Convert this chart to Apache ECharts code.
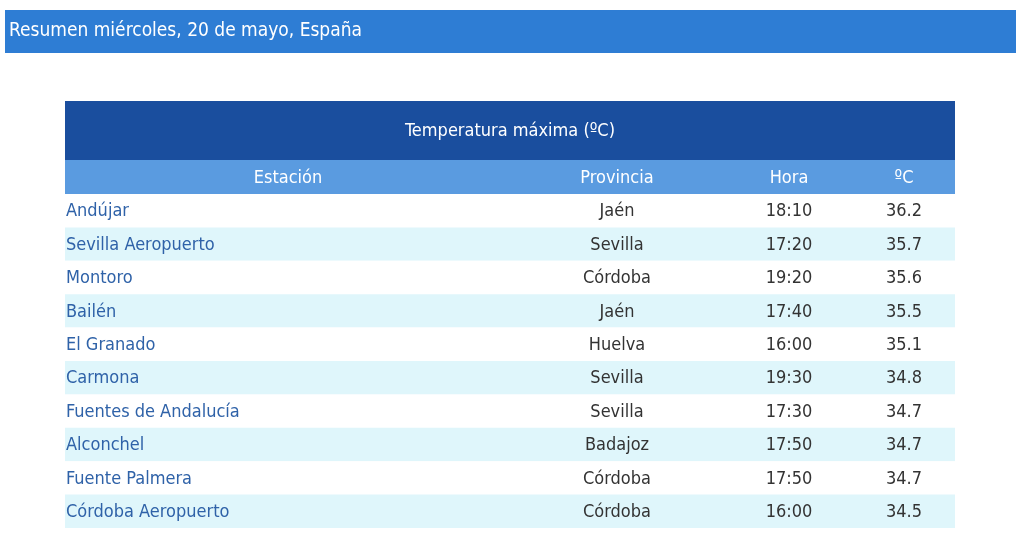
<!DOCTYPE html>
<html><head><meta charset="utf-8">
<script src="https://cdn.jsdelivr.net/npm/echarts@6/dist/echarts.min.js"></script>
<style>html,body{margin:0;background:#fff}#c{width:1024px;height:560px}</style>
</head><body><div id="c"></div>
<script>
// datos de la tabla
const titulo = 'Resumen miércoles, 20 de mayo, España';
const subtitulo = 'Temperatura máxima (ºC)';
const columnas = ['Estación', 'Provincia', 'Hora', 'ºC'];
const estaciones = ['Andújar', 'Sevilla Aeropuerto', 'Montoro', 'Bailén', 'El Granado', 'Carmona', 'Fuentes de Andalucía', 'Alconchel', 'Fuente Palmera', 'Córdoba Aeropuerto'];
const provincias = ['Jaén', 'Sevilla', 'Córdoba', 'Jaén', 'Huelva', 'Sevilla', 'Sevilla', 'Badajoz', 'Córdoba', 'Córdoba'];
const horas = ['18:10', '17:20', '19:20', '17:40', '16:00', '19:30', '17:30', '17:50', '17:50', '16:00'];
const temps = [36.2, 35.7, 35.6, 35.5, 35.1, 34.8, 34.7, 34.7, 34.7, 34.5];

const fuente = "'Liberation Sans Narrow', 'DejaVu Sans Condensed', sans-serif";
const x0 = 65, x1 = 955, rowTop = 194, rowH = 33.4;
const colX = [288, 617, 789, 904];

const myChart = echarts.init(document.getElementById('c'));
const g = [];
g.push({type: 'rect', shape: {x: 5, y: 10, width: 1011, height: 43}, style: {fill: '#2e7dd4'}});
g.push({type: 'text', left: 9, top: 22, style: {text: titulo, fill: '#fff', font: '19px ' + fuente}});
g.push({type: 'rect', shape: {x: x0, y: 101, width: x1 - x0, height: 59}, style: {fill: '#1a4e9e'}});
g.push({type: 'text', x: 510, y: 131, style: {text: subtitulo, fill: '#fff', font: '18px ' + fuente, align: 'center', verticalAlign: 'middle'}});
g.push({type: 'rect', shape: {x: x0, y: 160, width: x1 - x0, height: 34}, style: {fill: '#5a9be0'}});
columnas.forEach((c, i) => {
    g.push({type: 'text', x: colX[i], y: 178, style: {text: c, fill: '#fff', font: '18px ' + fuente, align: 'center', verticalAlign: 'middle'}});
});
estaciones.forEach((e, i) => {
    const y = rowTop + i * rowH;
    g.push({type: 'rect', shape: {x: x0, y: y, width: x1 - x0, height: rowH}, style: {fill: i % 2 ? '#dff6fb' : '#fff'}});
    const cy = y + rowH / 2 + 1;
    g.push({type: 'text', x: 66, y: cy, style: {text: e, fill: '#2f62a8', font: '18px ' + fuente, verticalAlign: 'middle'}});
    [provincias[i], horas[i], temps[i].toFixed(1)].forEach((v, j) => {
        g.push({type: 'text', x: colX[j + 1], y: cy, style: {text: v, fill: '#333', font: '18px ' + fuente, align: 'center', verticalAlign: 'middle'}});
    });
});
myChart.setOption({animation: false, graphic: g});
</script></body></html>
